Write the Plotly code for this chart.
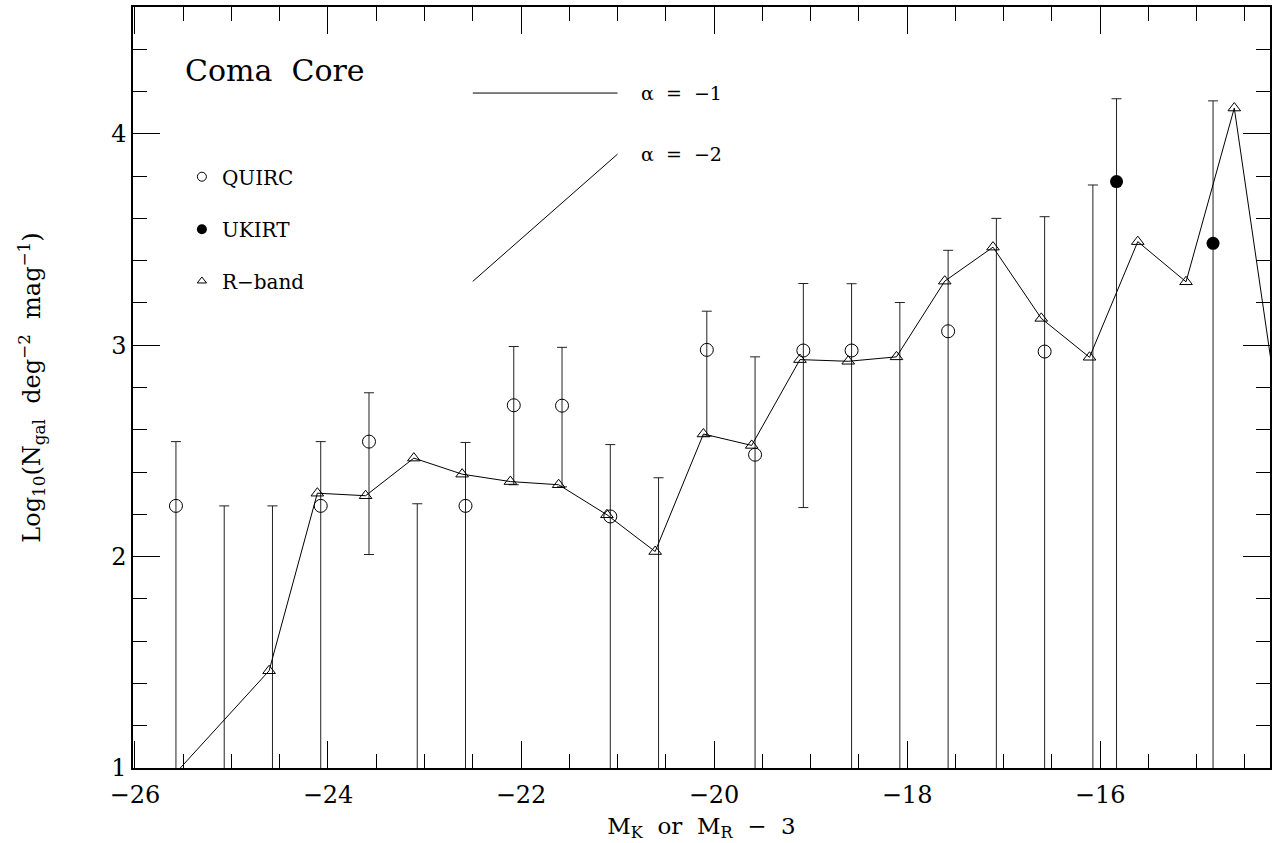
import plotly.graph_objects as go

# ---------------- data ----------------
# QUIRC K-band counts (open circles); None = no galaxies (value below plot)
quirc_x = [-25.575, -25.075, -24.575, -24.075, -23.575, -23.075, -22.575, -22.075,
           -21.575, -21.075, -20.575, -20.075, -19.575, -19.075, -18.575, -18.075,
           -17.575, -17.075, -16.575, -16.075]
quirc_y = [2.24, None, None, 2.24, 2.544, None, 2.24, 2.716,
           2.714, 2.19, None, 2.978, 2.482, 2.975, 2.975, None,
           3.066, None, 2.97, None]
quirc_hi = [2.544, 2.24, 2.24, 2.544, 2.775, 2.25, 2.54, 2.994,
            2.99, 2.53, 2.373, 3.161, 2.945, 3.292, 3.291, 3.202,
            3.449, 3.60, 3.608, 3.758]
# lower error bound; None = extends below the plotted range
quirc_lo = [None, None, None, None, 2.01, None, None, 2.34,
            2.33, None, None, 2.57, None, 2.232, None, None,
            None, None, None, None]

# UKIRT K-band counts (filled circles)
ukirt_x = [-15.83, -14.83]
ukirt_y = [3.774, 3.482]
ukirt_hi = [4.166, 4.156]
ukirt_lo = [None, None]

# R-band counts shifted by 3 mag (open triangles joined by a line)
rband_x = [-25.61, -24.61, -24.11, -23.61, -23.11, -22.61, -22.11, -21.61,
           -21.11, -20.61, -20.11, -19.61, -19.11, -18.61, -18.11, -17.61,
           -17.11, -16.61, -16.11, -15.61, -15.11, -14.61, -14.11]
rband_y = [0.96, 1.46, 2.30, 2.288, 2.466, 2.39, 2.355, 2.34,
           2.198, 2.024, 2.58, 2.526, 2.932, 2.924, 2.945, 3.303,
           3.464, 3.127, 2.943, 3.49, 3.30, 4.122, 2.55]

# slope guides
alpha1_x = [-22.5, -21.0]
alpha1_y = [4.193, 4.193]
alpha2_x = [-22.5, -21.0]
alpha2_y = [3.302, 3.904]

x_range = [-26.02, -14.24]
y_range = [1.0, 4.6]
floor_val = 0.0  # stand-in for "no lower bound" (well below the axis)

FONT = "DejaVu Serif"
BLACK = "black"


def err_parts(hi, lo):
    lows = [floor_val if v is None else v for v in lo]
    minus = [h - l for h, l in zip(hi, lows)]
    zeros = [0.0] * len(hi)
    return zeros, minus


fig = go.Figure()

# error bars for QUIRC (drawn from upper bound downward)
q_plus, q_minus = err_parts(quirc_hi, quirc_lo)
fig.add_trace(go.Scatter(
    x=quirc_x, y=quirc_hi, mode="markers",
    marker=dict(size=1, color="rgba(0,0,0,0)"),
    error_y=dict(type="data", symmetric=False, array=q_plus, arrayminus=q_minus,
                 width=5, thickness=1, color="#222222"),
    showlegend=False, hoverinfo="skip"))

u_plus, u_minus = err_parts(ukirt_hi, ukirt_lo)
fig.add_trace(go.Scatter(
    x=ukirt_x, y=ukirt_hi, mode="markers",
    marker=dict(size=1, color="rgba(0,0,0,0)"),
    error_y=dict(type="data", symmetric=False, array=u_plus, arrayminus=u_minus,
                 width=5, thickness=1, color="#222222"),
    showlegend=False, hoverinfo="skip"))

# R-band line with triangles
fig.add_trace(go.Scatter(
    x=rband_x, y=rband_y, mode="lines+markers",
    line=dict(color=BLACK, width=1),
    marker=dict(symbol="triangle-up-open", size=11, color=BLACK, line=dict(width=1)),
    showlegend=False))

# QUIRC circles
fig.add_trace(go.Scatter(
    x=quirc_x, y=quirc_y, mode="markers",
    marker=dict(symbol="circle-open", size=13, color=BLACK, line=dict(width=1)),
    showlegend=False))

# UKIRT filled circles
fig.add_trace(go.Scatter(
    x=ukirt_x, y=ukirt_y, mode="markers",
    marker=dict(symbol="circle", size=13, color=BLACK),
    showlegend=False))

# slope guide lines
fig.add_trace(go.Scatter(x=alpha1_x, y=alpha1_y, mode="lines",
                         line=dict(color=BLACK, width=1), showlegend=False, hoverinfo="skip"))
fig.add_trace(go.Scatter(x=alpha2_x, y=alpha2_y, mode="lines",
                         line=dict(color=BLACK, width=1), showlegend=False, hoverinfo="skip"))

# legend entries (one legend each so the spacing can match)
fig.add_trace(go.Scatter(x=[None], y=[None], mode="markers", name="QUIRC",
                         marker=dict(symbol="circle-open", size=9, color=BLACK, line=dict(width=1)),
                         legend="legend"))
fig.add_trace(go.Scatter(x=[None], y=[None], mode="markers", name="UKIRT",
                         marker=dict(symbol="circle", size=10, color=BLACK),
                         legend="legend2"))
fig.add_trace(go.Scatter(x=[None], y=[None], mode="markers", name="R\u2212band",
                         marker=dict(symbol="triangle-up-open", size=8, color=BLACK, line=dict(width=1)),
                         legend="legend3"))

leg_common = dict(x=0.043, xanchor="left", yanchor="middle", bgcolor="rgba(0,0,0,0)",
                  font=dict(family=FONT, size=20, color=BLACK), itemclick=False)

annotations = [
    dict(x=-25.50, y=4.30, xref="x", yref="y", text="Coma  Core", showarrow=False,
         xanchor="left", yanchor="middle", font=dict(family=FONT, size=30, color=BLACK)),
    dict(x=-20.78, y=alpha1_y[0], xref="x", yref="y", text="\u03b1  =  \u22121", showarrow=False,
         xanchor="left", yanchor="middle", font=dict(family=FONT, size=19, color=BLACK)),
    dict(x=-20.78, y=alpha2_y[1], xref="x", yref="y", text="\u03b1  =  \u22122", showarrow=False,
         xanchor="left", yanchor="middle", font=dict(family=FONT, size=19, color=BLACK)),
]

axis_common = dict(
    showgrid=False, zeroline=False, showline=True, linecolor=BLACK, linewidth=1.5,
    mirror="allticks", ticks="inside", tickcolor=BLACK, tickwidth=1, ticklen=27,
    tickfont=dict(family=FONT, size=24, color=BLACK),
)

fig.update_layout(
    width=1272, height=843,
    margin=dict(l=133, r=0, t=7, b=75),
    paper_bgcolor="white", plot_bgcolor="white",
    font=dict(family=FONT, color=BLACK),
    xaxis=dict(range=x_range, tickmode="linear", tick0=-26, dtick=2,
               tickformat="d", ticklabelstandoff=4,
               minor=dict(dtick=0.5, tick0=-26, ticks="inside", ticklen=14, tickcolor=BLACK, tickwidth=1),
               title=dict(text="M<sub>K</sub>  or  M<sub>R</sub>  \u2212  3",
                          font=dict(family=FONT, size=23, color=BLACK), standoff=10),
               **axis_common),
    yaxis=dict(range=y_range, tickmode="linear", tick0=1, dtick=1,
               minor=dict(dtick=0.2, tick0=1, ticks="inside", ticklen=14, tickcolor=BLACK, tickwidth=1),
               title=dict(text="Log<sub>10</sub>(N<sub>gal</sub>  deg<sup>\u22122</sup>  mag<sup>\u22121</sup>)",
                          font=dict(family=FONT, size=24, color=BLACK), standoff=64),
               **axis_common),
    legend=dict(y=0.777, **leg_common),
    legend2=dict(y=0.708, **leg_common),
    legend3=dict(y=0.640, **leg_common),
    annotations=annotations,
)

fig.write_html("out.html")
